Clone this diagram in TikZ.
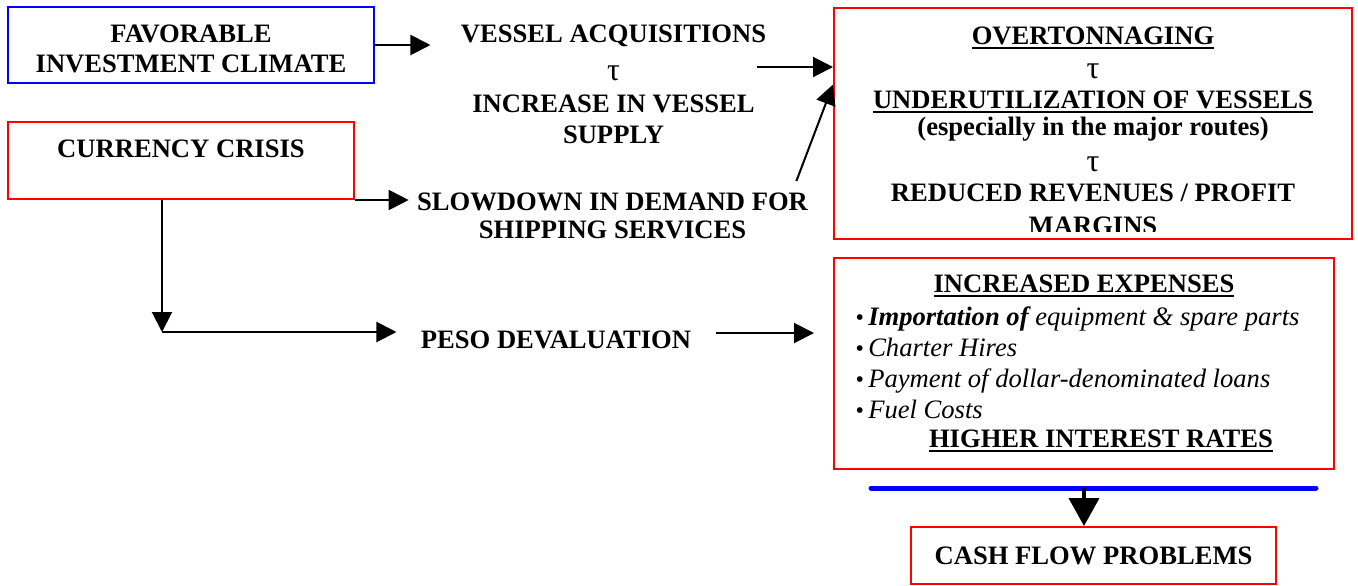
\documentclass[tikz,border=0pt]{standalone}
\usepackage{fontspec}
\setmainfont{Liberation Serif}
\usetikzlibrary{positioning,arrows.meta}

\newcommand{\ulined}[1]{\setbox0\hbox{#1}\rlap{\rule[-2.6pt]{\wd0}{0.9pt}}\box0}
\newcommand{\dotitem}{{\fontsize{12}{12}\selectfont\textbullet}\,}
\newcommand{\tauline}{{\mdseries\fontsize{16}{13}\selectfont τ}}

\begin{document}
\begin{tikzpicture}[x=0.5pt, y=-0.5pt, align=center, inner sep=0pt,
    font=\fontsize{13.3}{15.5}\selectfont\bfseries,
    arr/.style={-{Triangle[length=10pt,width=10pt]}, line width=1pt},
    redbox/.style={draw=red, line width=1pt},
    bluebox/.style={draw=blue, line width=1pt}]

    \useasboundingbox (0,0) rectangle (1358,585);

    % causes
    \node [bluebox, minimum width=183pt, minimum height=38pt] (favorable) at (191,45) {};
    \node [below=9pt of favorable.north, font=\fontsize{13.3}{15}\selectfont\bfseries] (climate) {FAVORABLE\\INVESTMENT CLIMATE};
    \node [redbox, minimum width=173pt, minimum height=38.5pt] (currency) at (181,160.5) {};
    \node [below=9.25pt of currency.north] (crisis) {CURRENCY CRISIS};

    % middle column
    \node [inner xsep=15pt] (vessel) at (613.5,84) {VESSEL ACQUISITIONS\\[3.5pt]\tauline\\[0.5pt]INCREASE IN VESSEL\\SUPPLY};
    \node [inner xsep=4pt, font=\fontsize{13.3}{14}\selectfont\bfseries] (slowdown) at (612.5,215.5) {SLOWDOWN IN DEMAND FOR\\SHIPPING SERVICES};
    \node [inner xsep=12pt] (peso) at (556,340) {PESO DEVALUATION};

    % effects
    \node [redbox, minimum width=259pt, minimum height=115.5pt] (overton) at (1093,123.5) {};
    \begin{scope}
        \clip (overton.north west) rectangle ([yshift=4.5pt]overton.south east);
        \node [below=9.5pt of overton.north, font=\fontsize{13.3}{13}\selectfont\bfseries] (overtext) {\ulined{OVERTONNAGING}\\[4pt]\tauline\\[2pt]\ulined{UNDERUTILIZATION OF VESSELS}\\[0.5pt](especially in the major routes)\\[5pt]\tauline\\[2pt]REDUCED REVENUES / PROFIT\\[3.5pt]MARGINS};
    \end{scope}

    \node [redbox, minimum width=250pt, minimum height=105.5pt] (expenses) at (1084,363.5) {};
    \node [anchor=base] (exptitle) at (1084,292) {\ulined{INCREASED EXPENSES}};
    \node [anchor=north west, align=left, font=\fontsize{13.3}{15.5}\selectfont\itshape] (explist) at (855,306) {\dotitem\textbf{Importation of} equipment \& spare parts\\\dotitem Charter Hires\\\dotitem Payment of dollar-denominated loans\\\dotitem Fuel Costs};
    \node [anchor=base] (higher) at (1101,447) {\ulined{HIGHER INTEREST RATES}};

    \coordinate (barleft) at (871,488);
    \coordinate (barright) at (1316,488);
    \coordinate (barmid) at (1084,488);
    \draw [blue, line width=2.5pt, line cap=round] (barleft) -- (barright);
    \node [redbox, minimum width=182.5pt, minimum height=28.5pt] (cash) at (1093.5,555.5) {CASH FLOW PROBLEMS};

    % connectors
    \coordinate (vesselout) at ([shift={(-20pt,8.5pt)}]vessel.east);
    \coordinate (bend) at (162,332);
    \coordinate (pesoout) at ([yshift=3.5pt]peso.east);
    \draw [arr] (favorable.east) -- (favorable.east -| vessel.west);
    \draw [arr] (vesselout) -- (vesselout -| overton.west);
    \draw [arr] (currency.south east) -- (currency.south east -| slowdown.west);
    \draw [arr] ([shift={(-10pt,5.5pt)}]slowdown.north east) -- ([yshift=19.5pt]overton.west);
    \draw [arr] (currency.south -| bend) -- (bend);
    \draw [arr] (bend) -- (bend -| peso.west);
    \draw [arr, shorten >=9.5pt] (pesoout) -- (pesoout -| expenses.west);
    \draw [-{Triangle[length=14pt,width=15pt]}, line width=2pt] (barmid) -- (barmid |- cash.north);

\end{tikzpicture}
\end{document}
